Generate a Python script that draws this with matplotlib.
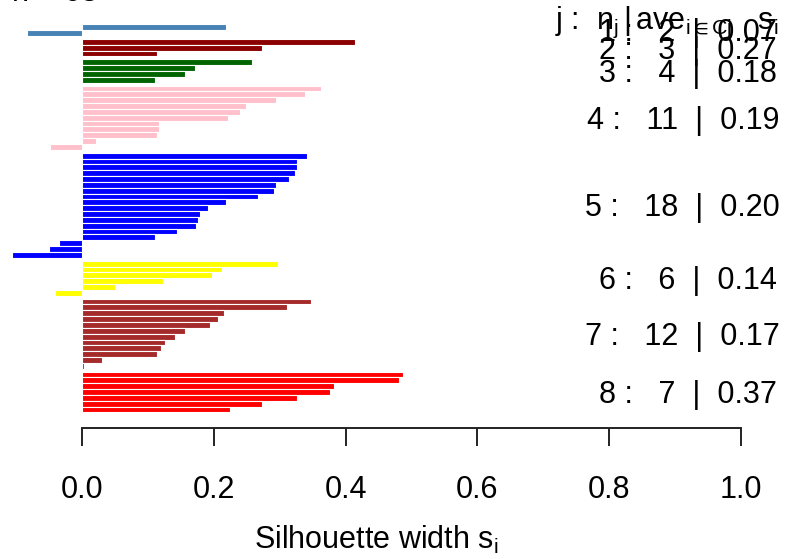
import numpy as np
import matplotlib.pyplot as plt

plt.rcParams['font.family'] = ['Liberation Sans', 'DejaVu Sans']
plt.rcParams['mathtext.fontset'] = 'custom'
plt.rcParams['mathtext.rm'] = 'Liberation Sans'
plt.rcParams['mathtext.it'] = 'Liberation Sans'
plt.rcParams['mathtext.default'] = 'regular'

# silhouette widths per cluster, top to bottom as drawn
sil_widths = [
    [0.219, -0.083],
    [0.415, 0.274, 0.114],
    [0.258, 0.172, 0.157, 0.111],
    [0.363, 0.338, 0.295, 0.249, 0.240, 0.222, 0.117, 0.117, 0.114, 0.022, -0.048],
    [0.342, 0.327, 0.326, 0.323, 0.314, 0.295, 0.292, 0.267, 0.219, 0.191, 0.179,
     0.176, 0.173, 0.145, 0.111, -0.035, -0.050, -0.106],
    [0.298, 0.213, 0.197, 0.123, 0.051, -0.041],
    [0.348, 0.311, 0.216, 0.207, 0.194, 0.157, 0.142, 0.126, 0.120, 0.114, 0.031, 0.003],
    [0.487, 0.481, 0.382, 0.376, 0.326, 0.274, 0.225],
]
cluster_ave = ['0.07', '0.27', '0.18', '0.19', '0.20', '0.14', '0.17', '0.37']
cluster_colors = ['steelblue', 'darkred', 'darkgreen', 'pink', 'blue', 'yellow', 'brown', 'red']
x_ticks = [0.0, 0.2, 0.4, 0.6, 0.8, 1.0]

W, H = 786, 559
fig = plt.figure(figsize=(W / 100, H / 100), dpi=100)

# plot region in pixels (from the top-left)
left_px, right_px, bottom_px, top_px = 12, 741, 428, 8
ax = fig.add_axes([left_px / W, 1 - bottom_px / H,
                   (right_px - left_px) / W, (bottom_px - top_px) / H])

# bar positions like R's barplot: gap of half a bar between clusters
n_total = sum(len(c) for c in sil_widths)
y = n_total + 0.5 * (len(sil_widths) - 1) - 0.5
ypos, vals, cols, centers = [], [], [], []
for widths, col in zip(sil_widths, cluster_colors):
    ys = []
    for v in widths:
        ys.append(y)
        ypos.append(y)
        vals.append(v)
        cols.append(col)
        y -= 1
    centers.append(np.mean(ys))
    y -= 0.5

ax.barh(ypos, vals, height=1, color=cols, edgecolor='white', linewidth=0.8)

xmin = min(vals)
ax.set_xlim(xmin, 1.0)
unit_px = 5.837
ax.set_ylim(-2.66, -2.66 + (bottom_px - top_px) / unit_px)

for s in ['top', 'left', 'right']:
    ax.spines[s].set_visible(False)
ax.spines['bottom'].set_bounds(0, 1)
ax.spines['bottom'].set_linewidth(1.4)
ax.spines['bottom'].set_color('#222222')
ax.set_yticks([])
ax.set_xticks(x_ticks)
ax.set_xticklabels([f'{t:.1f}' for t in x_ticks])
ax.tick_params(axis='x', length=13, width=1.4, color='#222222', pad=21, labelsize=22)

fig.text(376 / W, 1 - 549 / H, 'Silhouette width $s_i$', ha='center', va='baseline', fontsize=22)

renderer = fig.canvas.get_renderer()

# cluster statistics on the right, anchored like R's text(adj = 0.8)
for j, (widths, ave, yc) in enumerate(zip(sil_widths, cluster_ave, centers)):
    label = f'{j + 1} :   {len(widths)}  |  {ave}'
    t = fig.text(0, 0, label, ha='left', va='baseline', fontsize=22)
    w = t.get_window_extent(renderer).width
    px, py = ax.transData.transform((1.0, yc))
    t.set_position(((px - 0.8 * w) / W, (py - 11) / H))

# column header, drawn over the first rows as in the original
fig.text(555 / W, 1 - 29 / H, r'j :  $n_j\,|\,ave_{i \in Cj}\ \ \ s_i$',
         ha='left', va='baseline', fontsize=22)

# bottom of the cropped line above the plot
fig.text(12 / W, 1 - 1.3 / H, 'n = 63', ha='left', va='baseline', fontsize=22)

fig.savefig('out.png', dpi=100)
